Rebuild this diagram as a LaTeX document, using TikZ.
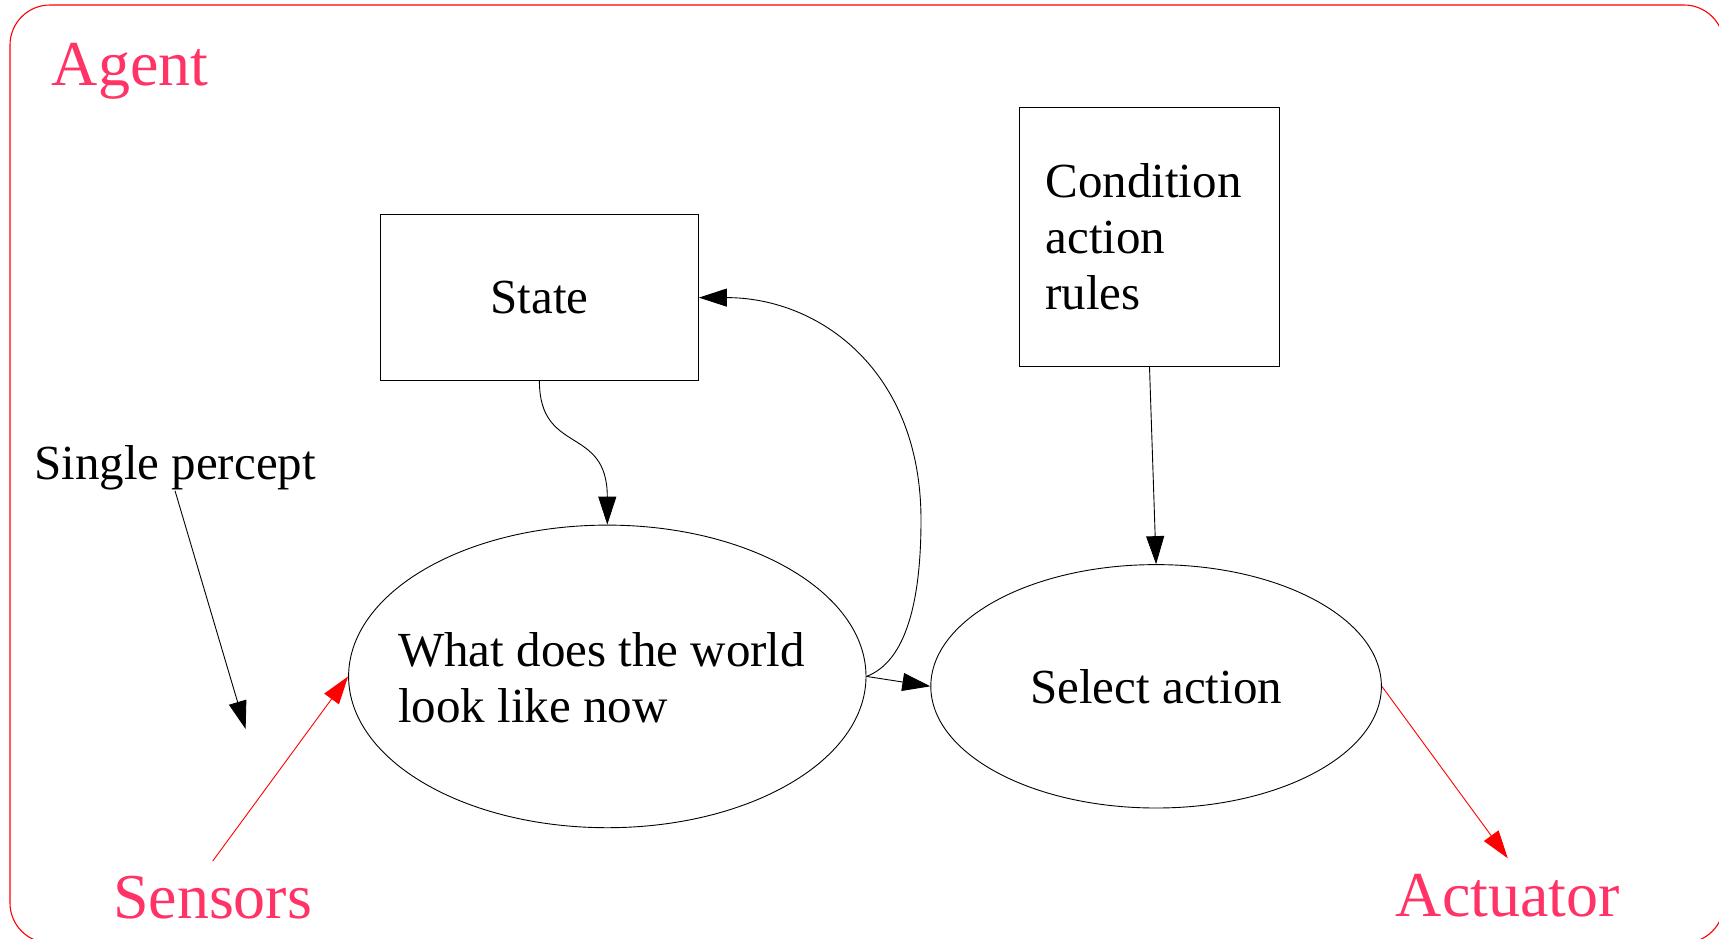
\documentclass[tikz,border=0pt]{standalone}
\usepackage{fontspec}
\setmainfont{Liberation Serif}
\usetikzlibrary{arrows.meta,shapes.geometric}
\definecolor{labelpink}{RGB}{255,51,102}
\begin{document}
\begin{tikzpicture}[x=1pt,y=-1pt,
  body/.style={font=\fontsize{49}{56}\selectfont},
  redlabel/.style={font=\fontsize{64}{70}\selectfont, text=labelpink, inner sep=0pt},
  boxnode/.style={draw=black, line width=0.9pt, inner sep=0pt, body},
  ell/.style={ellipse, draw=black, line width=0.9pt, inner sep=0pt, body},
  conn/.style={draw=black, line width=0.9pt, -{Triangle[length=28pt,width=18pt]}},
  redconn/.style={draw=red, line width=0.9pt, -{Triangle[length=28pt,width=18pt]}},
]
\useasboundingbox (0,0) rectangle (1719,938);
\draw[red, line width=1.1pt, rounded corners=40pt] (10,5) rectangle (1724,943);

\node[redlabel, anchor=base west] (agent) at (51.7,85) {Agent};
\node[boxnode, minimum width=318pt, minimum height=165.5pt] (state) at (539.4,297.6) {State};
\node[boxnode, minimum width=260pt, minimum height=259pt, text width=208pt, align=left] (cond) at (1149.5,236.8) {Condition\\action\\rules};
\node[ell, minimum width=517.4pt, minimum height=302.6pt] (world) at (607.3,676.4) {};
\node[body, anchor=north west, align=left, inner sep=0pt] (worldtext) at (398,632) {What does the world\\look like now};
\node[ell, minimum width=450.6pt, minimum height=243.4pt] (select) at (1156.1,686.3) {Select action};
\node[body, anchor=base west, inner sep=0pt] (percept) at (34,479) {Single percept};
\node[redlabel, anchor=base west] (sensors) at (112.9,918.7) {Sensors};
\node[redlabel, anchor=base west] (actuator) at (1395.6,916.7) {Actuator};

\coordinate (perceptend) at (245.6,729);
\coordinate (loopturn) at (921,520);

\draw[conn] ([yshift=-1pt]percept.south) -- (perceptend);
\draw[redconn] ([yshift=15pt]sensors.north) -- (world.west);
\draw[redconn] (select.east) -- ([yshift=16pt]actuator.north);
\draw[conn] (world.east) -- (select.west);
\draw[conn] (cond.south) -- (select.north);
\draw[conn] (state.south) .. controls +(0,75) and +(0,-100) .. (world.north);
\draw[conn] (world.east) .. controls +(40,-15) and +(0,80) .. (loopturn) .. controls +(0,-150) and +(120,0) .. (state.east);
\end{tikzpicture}
\end{document}
